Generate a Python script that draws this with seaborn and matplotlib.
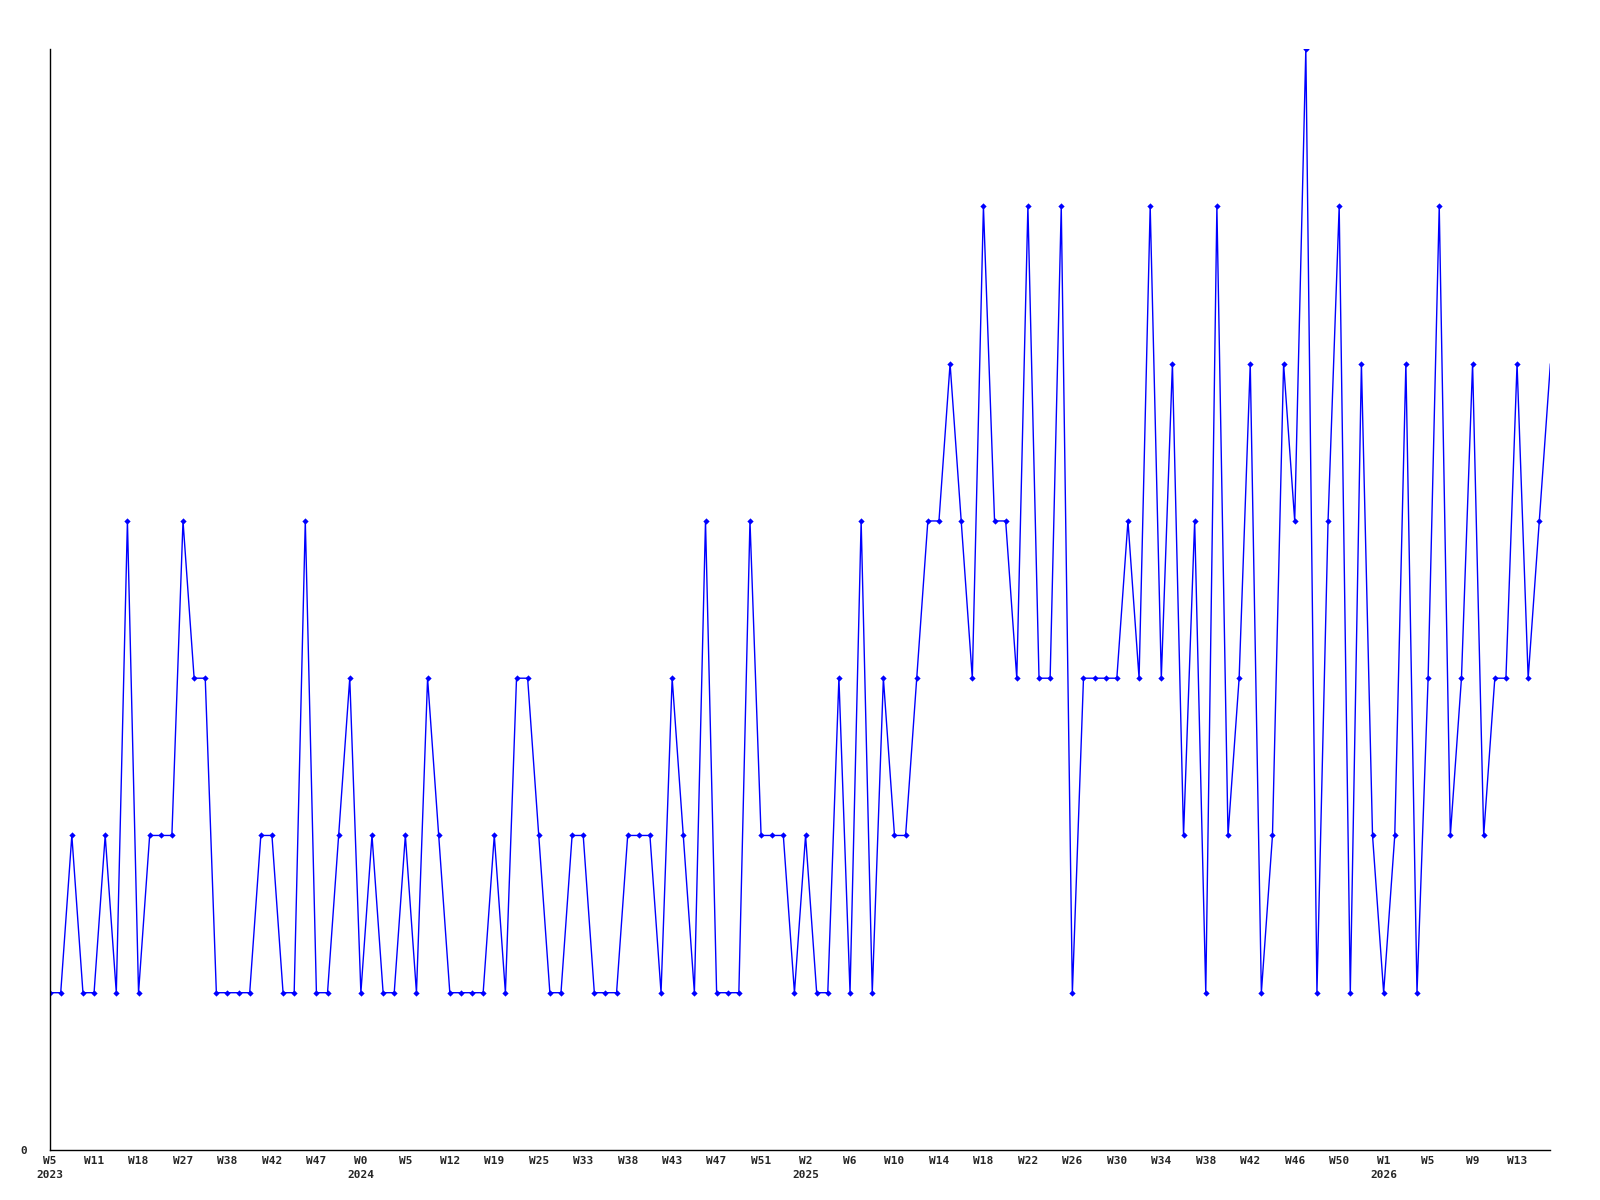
import matplotlib
matplotlib.use("Agg")
import matplotlib.pyplot as plt
import seaborn as sns
import pandas as pd

# weekly counts
values = [1, 1, 2, 1, 1, 2, 1, 4, 1, 2,
          2, 2, 4, 3, 3, 1, 1, 1, 1, 2,
          2, 1, 1, 4, 1, 1, 2, 3, 1, 2,
          1, 1, 2, 1, 3, 2, 1, 1, 1, 1,
          2, 1, 3, 3, 2, 1, 1, 2, 2, 1,
          1, 1, 2, 2, 2, 1, 3, 2, 1, 4,
          1, 1, 1, 4, 2, 2, 2, 1, 2, 1,
          1, 3, 1, 4, 1, 3, 2, 2, 3, 4,
          4, 5, 4, 3, 6, 4, 4, 3, 6, 3,
          3, 6, 1, 3, 3, 3, 3, 4, 3, 6,
          3, 5, 2, 4, 1, 6, 2, 3, 5, 1,
          2, 5, 4, 7, 1, 4, 6, 1, 5, 2,
          1, 2, 5, 1, 3, 6, 2, 3, 5, 2,
          3, 3, 5, 3, 4, 5]

# tick labels every 4th point
week_labels = ["W5", "W11", "W18", "W27", "W38", "W42", "W47", "W0", "W5",
               "W12", "W19", "W25", "W33", "W38", "W43", "W47", "W51", "W2",
               "W6", "W10", "W14", "W18", "W22", "W26", "W30", "W34", "W38",
               "W42", "W46", "W50", "W1", "W5", "W9", "W13"]
year_labels = {0: "2023", 28: "2024", 68: "2025", 120: "2026"}
tick_step = 4

df = pd.DataFrame({"idx": range(len(values)), "count": values})

sns.set_style("white")
plt.rcParams["font.family"] = ["DejaVu Sans Mono", "DejaVu Sans"]

fig = plt.figure(figsize=(16, 12), dpi=100)
ax = fig.add_axes([0.031, 0.0417, 0.938, 0.9173])

sns.lineplot(data=df, x="idx", y="count", ax=ax, color="#0000ff",
             linewidth=1.0, marker="D", markersize=3.2,
             markeredgewidth=0, markevery=list(range(len(values) - 1)))

ticks = [i * tick_step for i in range(len(week_labels))]
labels = []
for t, w in zip(ticks, week_labels):
    labels.append(w + "\n" + year_labels[t] if t in year_labels else w)
ax.set_xticks(ticks)
ax.set_xticklabels(labels, fontsize=8, fontweight="bold", linespacing=1.5)
ax.set_yticks([0])
ax.set_yticklabels(["0"], fontsize=8, fontweight="bold")
ax.tick_params(axis="x", length=0, pad=4)
ax.tick_params(axis="y", length=0, pad=16)

ax.set_xlim(0, len(values) - 1)
ax.set_ylim(0, 7)
ax.set_xlabel("")
ax.set_ylabel("")
for s in ["top", "right"]:
    ax.spines[s].set_visible(False)
for s in ["left", "bottom"]:
    ax.spines[s].set_color("black")
    ax.spines[s].set_linewidth(1.0)

fig.savefig("out.png", dpi=100)
